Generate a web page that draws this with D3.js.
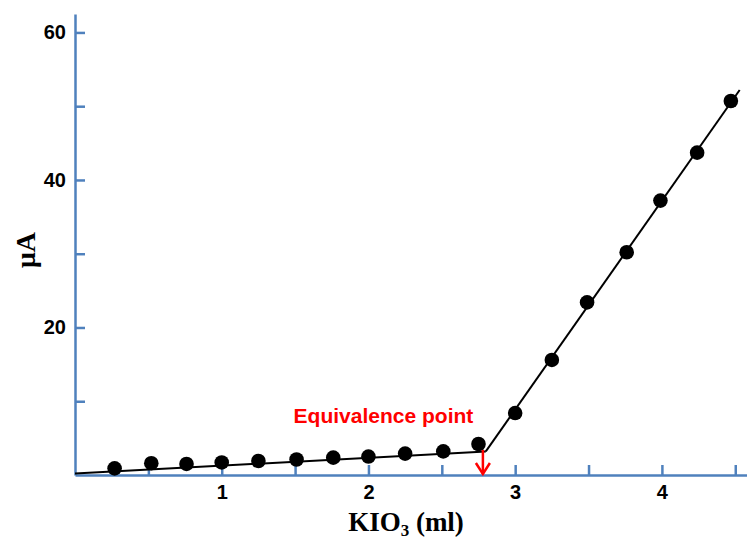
<!DOCTYPE html>
<html>
<head>
<meta charset="utf-8">
<script src="https://cdn.jsdelivr.net/npm/d3@7"></script>
<style>
  body { margin: 0; background: #fff; }
  svg { display: block; }
</style>
</head>
<body>
<svg id="chart" width="747" height="541"></svg>
<script>
// titration points, flat part before the equivalence point
const lowX = [0.27, 0.52, 0.76, 1.0, 1.25, 1.51, 1.76, 2.0, 2.25, 2.51, 2.75];
const lowY = [0.9, 1.6, 1.5, 1.7, 1.9, 2.1, 2.35, 2.5, 2.9, 3.2, 4.2];
// points after the equivalence point
const highX = [3.0, 3.25, 3.49, 3.76, 3.99, 4.24, 4.47];
const highY = [8.4, 15.6, 23.4, 30.2, 37.2, 43.7, 50.7];
// fitted lines
const fitLow = [[0, 0.2], [2.8, 3.2]];
const fitHigh = [[2.8, 3.2], [4.53, 52.2]];
const equivX = 2.78;
const xTicks = [0.5, 1, 1.5, 2, 2.5, 3, 3.5, 4, 4.5];
const yTicks = [10, 20, 30, 40, 50, 60];

let svg = d3.select('#chart');
let axisColor = '#4f81bd';

let x = d3.scaleLinear().domain([0, 4.58]).range([75, 747]);
let y = d3.scaleLinear().domain([0, 62.5]).range([475, 14]);

let xAxis = d3.axisBottom(x)
  .tickValues(xTicks)
  .tickSizeInner(-10)
  .tickSizeOuter(0)
  .tickFormat(d => Number.isInteger(d) ? d : '');
let yAxis = d3.axisLeft(y)
  .tickValues(yTicks)
  .tickSizeInner(-10)
  .tickSizeOuter(0)
  .tickFormat(d => d % 20 === 0 ? d : '');

let gx = svg.append('g')
  .attr('transform', 'translate(0,' + y(0) + ')')
  .call(xAxis);
let gy = svg.append('g')
  .attr('transform', 'translate(' + x(0) + ',0)')
  .call(yAxis);

[gx, gy].forEach(g => {
  g.select('.domain').attr('stroke', axisColor).attr('stroke-width', 2.5);
  g.selectAll('.tick line').attr('stroke', axisColor).attr('stroke-width', 2.5);
  g.selectAll('.tick text')
    .attr('fill', '#000')
    .attr('font-family', 'Arial, "Liberation Sans", sans-serif')
    .attr('font-weight', 'bold')
    .attr('font-size', 20);
});
gx.selectAll('.tick text').attr('y', 10).attr('dy', '0.71em');
gy.selectAll('.tick text').attr('x', -9);

// fitted lines
let line = d3.line().x(d => x(d[0])).y(d => y(d[1]));
svg.append('path')
  .datum(fitLow)
  .attr('d', line)
  .attr('fill', 'none')
  .attr('stroke', '#000')
  .attr('stroke-width', 2);
svg.append('path')
  .datum(fitHigh)
  .attr('d', line)
  .attr('fill', 'none')
  .attr('stroke', '#000')
  .attr('stroke-width', 2);

// data points
let points = lowX.map((v, i) => [v, lowY[i]])
  .concat(highX.map((v, i) => [v, highY[i]]));
svg.selectAll('circle.point')
  .data(points)
  .enter()
  .append('circle')
  .attr('class', 'point')
  .attr('cx', d => x(d[0]))
  .attr('cy', d => y(d[1]))
  .attr('r', 7.3)
  .attr('fill', '#000');

// equivalence arrow
let ax = x(equivX);
let tip = y(0) - 1;
svg.append('line')
  .attr('x1', ax).attr('x2', ax)
  .attr('y1', y(3.4)).attr('y2', tip)
  .attr('stroke', '#ff0000')
  .attr('stroke-width', 2.5);
svg.append('path')
  .attr('d', 'M' + (ax - 7) + ',' + (tip - 11) + 'L' + ax + ',' + tip + 'L' + (ax + 7) + ',' + (tip - 11))
  .attr('fill', 'none')
  .attr('stroke', '#ff0000')
  .attr('stroke-width', 2.5);

svg.append('text')
  .attr('x', x(1.49))
  .attr('y', y(7.05))
  .attr('fill', '#ff0000')
  .attr('font-family', 'Arial, "Liberation Sans", sans-serif')
  .attr('font-weight', 'bold')
  .attr('font-size', 21)
  .text('Equivalence point');

// axis titles
let xTitle = svg.append('text')
  .attr('x', 406)
  .attr('y', 531)
  .attr('text-anchor', 'middle')
  .attr('font-family', '"Times New Roman", "Liberation Serif", serif')
  .attr('font-weight', 'bold')
  .attr('font-size', 27)
  .attr('fill', '#000');
xTitle.append('tspan').text('KIO');
xTitle.append('tspan').attr('font-size', 17).attr('dy', 5).text('3');
xTitle.append('tspan').attr('dy', -5).text(' (ml)');

svg.append('text')
  .attr('transform', 'translate(35,250) rotate(-90)')
  .attr('text-anchor', 'middle')
  .attr('font-family', '"Times New Roman", "Liberation Serif", serif')
  .attr('font-weight', 'bold')
  .attr('font-size', 28)
  .attr('fill', '#000')
  .text('μA');
</script>
</body>
</html>
